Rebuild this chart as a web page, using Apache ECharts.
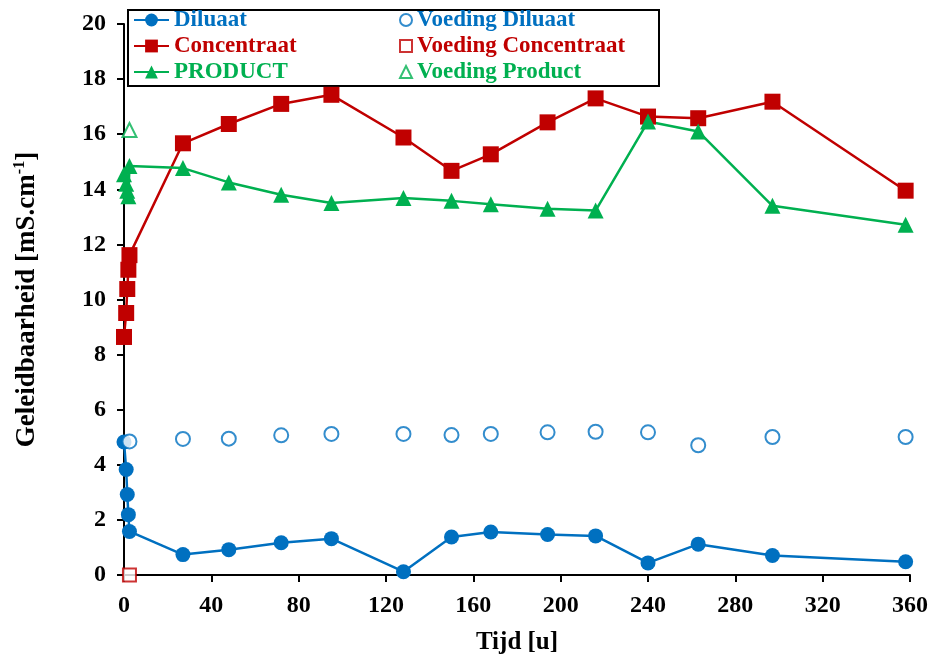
<!DOCTYPE html>
<html>
<head>
<meta charset="utf-8">
<script src="https://cdn.jsdelivr.net/npm/echarts@6/dist/echarts.min.js"></script>
<style>
  html, body { margin: 0; padding: 0; background: #fff; }
  #chart { width: 933px; height: 662px; }
</style>
</head>
<body>
<div id="chart"></div>
<script>
// Sampling times [u] for the three streams
const tijd = [0, 1, 1.5, 2, 2.5, 27, 48, 72, 95, 128, 150, 168, 194, 216, 240, 263, 297, 358];
// Conductivity [mS/cm]
const diluaat     = [4.83, 3.83, 2.92, 2.19, 1.58, 0.74, 0.92, 1.17, 1.32, 0.12, 1.38, 1.56, 1.47, 1.42, 0.44, 1.12, 0.71, 0.48];
const concentraat = [8.64, 9.51, 10.38, 11.08, 11.61, 15.67, 16.37, 17.10, 17.43, 15.88, 14.67, 15.27, 16.43, 17.30, 16.64, 16.58, 17.18, 13.95];
const product     = [14.55, 14.20, 13.95, 13.75, 14.85, 14.77, 14.25, 13.80, 13.50, 13.68, 13.58, 13.46, 13.29, 13.23, 16.46, 16.10, 13.40, 12.71];

// Feed conductivity
const voedingTijd        = [2.5, 27, 48, 72, 95, 128, 150, 168, 194, 216, 240, 263, 297, 358];
const voedingDiluaat     = [4.85, 4.94, 4.95, 5.07, 5.12, 5.12, 5.08, 5.12, 5.18, 5.20, 5.18, 4.71, 5.01, 5.01];
const voedingConcTijd    = [2.5];
const voedingConcentraat = [0];
const voedingProdTijd    = [2.5];
const voedingProduct     = [16.15];

const xTicks = { min: 0, max: 360, interval: 40 };
const yTicks = { min: 0, max: 20, interval: 2 };

const BLUE = '#0070C0', RED = '#C00000', GREEN = '#00B050';
const FONT = "'Liberation Serif', 'Times New Roman', serif";

const pairs = (xs, ys) => xs.map((x, i) => [x, ys[i]]);

const chart = echarts.init(document.getElementById('chart'), null, { renderer: 'canvas' });

const axisCommon = {
  type: 'value',
  axisLine: { show: true, onZero: false, lineStyle: { color: '#000', width: 2 } },
  axisTick: { show: true, inside: false, length: 7, lineStyle: { color: '#000', width: 2 } },
  splitLine: { show: false },
  axisLabel: { color: '#000', fontFamily: FONT, fontWeight: 'bold', fontSize: 24 }
};

const lineSeries = (name, ys, color, symbol, size) => ({
  name, type: 'line', data: pairs(tijd, ys),
  symbol, symbolSize: size, showAllSymbol: true,
  lineStyle: { color, width: 2.5 },
  itemStyle: { color },
  emphasis: { disabled: true },
  z: 3
});

const feedSeries = (name, xs, ys, color, symbol, size) => ({
  name, type: 'scatter', data: pairs(xs, ys),
  symbol, symbolSize: size,
  itemStyle: { color, borderColor: color, borderWidth: 2 },
  emphasis: { disabled: true },
  z: 3
});

const legendText = { fontFamily: FONT, fontWeight: 'bold', fontSize: 23, lineHeight: 24 };

chart.setOption({
  animation: false,
  backgroundColor: '#fff',
  grid: { left: 124, right: 23, top: 24, bottom: 87, containLabel: false },
  xAxis: Object.assign({}, axisCommon, xTicks, {
    name: 'Tijd [u]', nameLocation: 'middle', nameGap: 55,
    nameTextStyle: { color: '#000', fontFamily: FONT, fontWeight: 'bold', fontSize: 25 },
    axisLabel: Object.assign({}, axisCommon.axisLabel, { margin: 19 })
  }),
  yAxis: Object.assign({}, axisCommon, yTicks, {
    name: '{a|Geleidbaarheid [mS.cm}{s|-1}{a|]}',
    nameLocation: 'middle', nameGap: 82,
    nameTextStyle: {
      color: '#000', fontFamily: FONT, fontWeight: 'bold', fontSize: 27,
      rich: {
        a: { color: '#000', fontFamily: FONT, fontWeight: 'bold', fontSize: 27, lineHeight: 30 },
        s: { color: '#000', fontFamily: FONT, fontWeight: 'bold', fontSize: 16, verticalAlign: 'top', lineHeight: 30 }
      }
    },
    axisLabel: Object.assign({}, axisCommon.axisLabel, { margin: 18 })
  }),
  graphic: [{
    type: 'rect', z: 3,
    shape: { x: 128, y: 10, width: 531, height: 76 },
    style: { fill: '#fff', stroke: '#000', lineWidth: 2 }
  }],
  legend: [
    {
      orient: 'vertical', left: 133, top: 8, padding: 0, itemGap: 2,
      itemWidth: 35, itemHeight: 16, selectedMode: false, z: 5,
      textStyle: legendText,
      data: [
        { name: 'Diluaat', textStyle: { color: BLUE } },
        { name: 'Concentraat', textStyle: { color: RED } },
        { name: 'PRODUCT', textStyle: { color: GREEN } }
      ]
    },
    {
      orient: 'vertical', left: 399, top: 8, padding: 0, itemGap: 2,
      itemWidth: 12, itemHeight: 12, selectedMode: false, z: 5,
      textStyle: legendText,
      data: [
        { name: 'Voeding Diluaat', textStyle: { color: BLUE } },
        { name: 'Voeding Concentraat', textStyle: { color: RED } },
        { name: 'Voeding Product', textStyle: { color: GREEN } }
      ]
    }
  ],
  series: [
    lineSeries('Diluaat', diluaat, BLUE, 'circle', 15),
    lineSeries('Concentraat', concentraat, RED, 'rect', 16),
    lineSeries('PRODUCT', product, GREEN, 'triangle', 16),
    feedSeries('Voeding Diluaat', voedingTijd, voedingDiluaat, BLUE, 'emptyCircle', 14),
    feedSeries('Voeding Concentraat', voedingConcTijd, voedingConcentraat, RED, 'emptyRect', 13),
    feedSeries('Voeding Product', voedingProdTijd, voedingProduct, GREEN, 'emptyTriangle', 14)
  ]
});
</script>
</body>
</html>
